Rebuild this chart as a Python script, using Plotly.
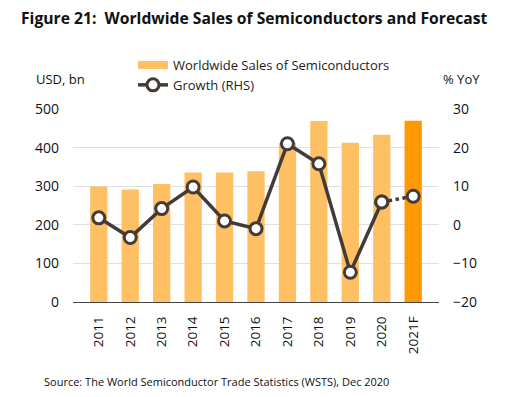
import plotly.graph_objects as go

years = ["2011", "2012", "2013", "2014", "2015", "2016", "2017", "2018", "2019", "2020", "2021F"]
sales = [299.5, 291.6, 305.6, 335.8, 335.2, 338.9, 412.2, 468.8, 412.3, 433.0, 469.4]
growth = [1.8, -3.3, 4.2, 9.8, 1.0, -1.0, 21.0, 15.8, -12.3, 5.9, 7.4]
bar_colors = ["#FFC064"] * 10 + ["#FF9900"]

FONT = "Open Sans"
LINE = "#433b38"
TXT = "#111111"

fig = go.Figure()
fig.add_trace(go.Bar(x=years, y=sales, name="Worldwide Sales of Semiconductors", showlegend=False,
                     marker=dict(color=bar_colors, line=dict(width=0)), width=0.55))
# legend entry for bars (wide swatch like the reference)
fig.add_trace(go.Scatter(x=[None], y=[None], name="Worldwide Sales of Semiconductors",
                         mode="lines", line=dict(color="#FFC064", width=8)))
fig.add_trace(go.Scatter(x=years[:10], y=growth[:10], name="Growth (RHS)", yaxis="y2",
                         mode="lines+markers",
                         line=dict(color=LINE, width=3.5),
                         marker=dict(size=12, color="white", line=dict(color=LINE, width=3))))
fig.add_trace(go.Scatter(x=years[9:], y=growth[9:], yaxis="y2", showlegend=False,
                         mode="lines+markers",
                         line=dict(color=LINE, width=3.5, dash="dot"),
                         marker=dict(size=12, color="white", line=dict(color=LINE, width=3))))

W, H = 508, 397
L, R, T, B = 73, 69, 109, 95
pw, ph = W - L - R, H - T - B
def px(xp): return (xp - L) / pw
def py(yp): return (H - B - yp) / ph

fig.update_layout(
    width=W, height=H,
    margin=dict(l=L, r=R, t=T, b=B, autoexpand=False),
    paper_bgcolor="white", plot_bgcolor="white",
    font=dict(family=FONT, color=TXT),
    showlegend=True,
    legend=dict(x=px(133), y=py(50), xanchor="left", yanchor="top", bgcolor="rgba(0,0,0,0)",
                font=dict(size=13, family=FONT, color="#222222"), tracegroupgap=0),
    xaxis=dict(type="category", tickangle=-90, tickfont=dict(size=13.5, color=TXT),
               showline=True, linecolor="#444444", linewidth=1, ticks="", showgrid=False,
               ticklabelstandoff=8),
    yaxis=dict(range=[0, 500], dtick=100, tickfont=dict(size=14, color=TXT),
               showgrid=True, gridcolor="#e0e0e0", gridwidth=1, zeroline=False, ticks="",
               ticklabelstandoff=13),
    yaxis2=dict(range=[-20, 30], dtick=10, overlaying="y", side="right",
                tickfont=dict(size=14, color=TXT), showgrid=False, zeroline=False, ticks="",
                ticklabelstandoff=13),
)

fig.add_annotation(text="<b>Figure 21:  Worldwide Sales of Semiconductors and Forecast</b>",
                   xref="paper", yref="paper", x=px(19), y=py(18), showarrow=False,
                   xanchor="left", yanchor="middle", font=dict(size=15.7, family=FONT, color=TXT))
fig.add_annotation(text="USD, bn", xref="paper", yref="paper", x=px(34), y=py(79), showarrow=False,
                   xanchor="left", yanchor="middle", font=dict(size=13, family=FONT, color=TXT))
fig.add_annotation(text="% YoY", xref="paper", yref="paper", x=px(441), y=py(79), showarrow=False,
                   xanchor="left", yanchor="middle", font=dict(size=13, family=FONT, color=TXT))
fig.add_annotation(text="Source: The World Semiconductor Trade Statistics (WSTS), Dec 2020",
                   xref="paper", yref="paper", x=px(42), y=py(381), showarrow=False,
                   xanchor="left", yanchor="middle", font=dict(size=11, family=FONT, color=TXT))

fig.write_html("out.html", config={"displayModeBar": False},
               post_script="document.body.style.margin='0';document.body.style.overflow='hidden';")
